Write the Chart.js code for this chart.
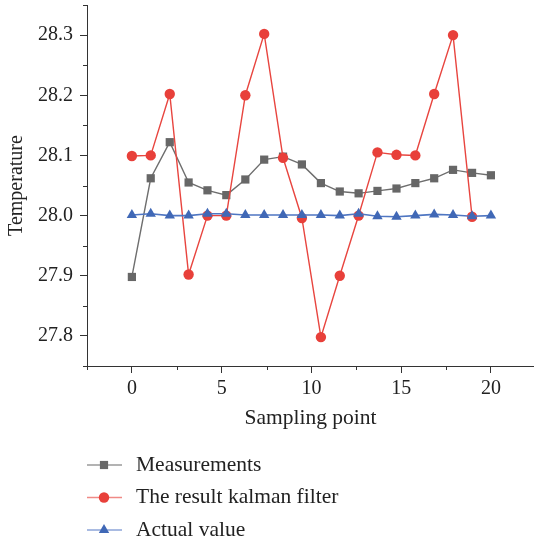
<!DOCTYPE html>
<html>
<head>
<meta charset="utf-8">
<script src="https://cdn.jsdelivr.net/npm/chart.js@4.4.1/dist/chart.umd.min.js"></script>
<style>
    html, body { margin: 0; padding: 0; background: #fff; }
    #wrap { width: 534px; height: 546px; position: relative; }
</style>
</head>
<body>
<div id="wrap"><canvas id="chart"></canvas></div>
<script>
// --- Data ---
const samplePoints = [0, 1.05, 2.11, 3.16, 4.21, 5.26, 6.32, 7.37, 8.42, 9.47,
    10.53, 11.58, 12.63, 13.68, 14.74, 15.79, 16.84, 17.89, 18.95, 20];

const measurements = [27.898, 28.062, 28.122, 28.055, 28.042, 28.034, 28.060, 28.093, 28.098, 28.085,
    28.054, 28.040, 28.037, 28.041, 28.045, 28.054, 28.062, 28.076, 28.071, 28.067];

const kalmanResult = [28.099, 28.100, 28.202, 27.902, 28.000, 28.000, 28.200, 28.302, 28.096, 27.996,
    27.798, 27.900, 28.000, 28.105, 28.101, 28.100, 28.202, 28.300, 27.998];

const actualValue = [28.001, 28.003, 28.000, 28.000, 28.003, 28.003, 28.001, 28.001, 28.001, 28.001,
    28.001, 28.000, 28.003, 27.999, 27.998, 28.000, 28.002, 28.001, 27.999, 28.000];

const xMajorTicks = [0, 5, 10, 15, 20];
const xMinorTicks = [-2.5, 2.5, 7.5, 12.5, 17.5];
const yMajorTicks = [27.8, 27.9, 28.0, 28.1, 28.2, 28.3];
const yMinorTicks = [27.75, 27.85, 27.95, 28.05, 28.15, 28.25, 28.35];

const seriesNames = ['Measurements', 'The result kalman filter', 'Actual value'];

// --- Helpers ---
const FONT = 'Liberation Serif';
const AXIS = '#333333';

function toPoints(values) {
    return values.map((v, i) => ({ x: samplePoints[i], y: v }));
}

// minor ticks + custom legend (line with marker in the middle)
const extrasPlugin = {
    id: 'extras',
    afterDraw(chart) {
        const ctx = chart.ctx;
        const xs = chart.scales.x;
        const ys = chart.scales.y;
        const area = chart.chartArea;

        ctx.save();
        ctx.strokeStyle = AXIS;
        ctx.lineWidth = 1;
        ctx.beginPath();
        xMinorTicks.forEach(v => {
            const px = Math.round(xs.getPixelForValue(v)) + 0.5;
            ctx.moveTo(px, area.bottom);
            ctx.lineTo(px, area.bottom + 4);
        });
        yMinorTicks.forEach(v => {
            const py = Math.round(ys.getPixelForValue(v)) + 0.5;
            ctx.moveTo(area.left, py);
            ctx.lineTo(area.left - 4, py);
        });
        ctx.stroke();

        // legend
        const rowY = [465, 497.5, 530];
        const lineColors = ['#9a9a9a', '#f08a86', '#8ca5d8'];
        chart.data.datasets.forEach((ds, i) => {
            const y = rowY[i];
            ctx.strokeStyle = lineColors[i];
            ctx.lineWidth = 1.5;
            ctx.beginPath();
            ctx.moveTo(87, y);
            ctx.lineTo(122, y);
            ctx.stroke();
            ctx.fillStyle = ds.pointBackgroundColor;
            ctx.strokeStyle = ds.pointBackgroundColor;
            Chart.helpers.drawPoint(ctx, {
                pointStyle: ds.pointStyle,
                radius: ds.pointRadius,
                borderWidth: 0,
                rotation: 0
            }, 104, y);
            ctx.fillStyle = '#222';
            ctx.font = '21.5px "' + FONT + '"';
            ctx.textBaseline = 'middle';
            ctx.textAlign = 'left';
            ctx.fillText(ds.label, 136, y);
        });
        ctx.restore();
    }
};

const ctx = document.getElementById('chart').getContext('2d');
new Chart(ctx, {
    type: 'line',
    data: {
        datasets: [
            {
                label: seriesNames[0],
                data: toPoints(measurements),
                borderColor: '#6e6e6e',
                backgroundColor: '#676767',
                pointBackgroundColor: '#676767',
                pointBorderColor: '#676767',
                pointStyle: 'rect',
                pointRadius: 5.8,
                pointBorderWidth: 0,
                borderWidth: 1.4,
                order: 3
            },
            {
                label: seriesNames[1],
                data: toPoints(kalmanResult),
                borderColor: '#e8453f',
                backgroundColor: '#e8403a',
                pointBackgroundColor: '#e8403a',
                pointBorderColor: '#e8403a',
                pointStyle: 'circle',
                pointRadius: 5.2,
                pointBorderWidth: 0,
                borderWidth: 1.4,
                order: 2
            },
            {
                label: seriesNames[2],
                data: toPoints(actualValue),
                borderColor: '#4f76c2',
                backgroundColor: '#4068b6',
                pointBackgroundColor: '#4068b6',
                pointBorderColor: '#4068b6',
                pointStyle: 'triangle',
                pointRadius: 6,
                pointBorderWidth: 0,
                borderWidth: 1.6,
                order: 1
            }
        ]
    },
    options: {
        responsive: true,
        maintainAspectRatio: false,
        animation: false,
        layout: { autoPadding: false, padding: { top: 5, right: 0, bottom: 110, left: 0 } },
        plugins: {
            legend: { display: false },
            tooltip: { enabled: false }
        },
        scales: {
            x: {
                type: 'linear',
                min: -2.5,
                max: 22.4,
                afterBuildTicks: s => { s.ticks = xMajorTicks.map(v => ({ value: v })); },
                afterFit: s => { s.height = 70; s.paddingLeft = 0; s.paddingRight = 0; },
                ticks: {
                    font: { family: FONT, size: 20 },
                    color: '#222',
                    padding: 4,
                    maxRotation: 0
                },
                grid: { drawOnChartArea: false, tickLength: 7, tickColor: AXIS, tickWidth: 1 },
                border: { display: true, color: AXIS, width: 1 },
                title: {
                    display: true,
                    text: 'Sampling point',
                    font: { family: FONT, size: 21.5 },
                    color: '#222',
                    padding: { top: 0, bottom: 5 }
                }
            },
            y: {
                min: 27.75,
                max: 28.35,
                afterBuildTicks: s => { s.ticks = yMajorTicks.map(v => ({ value: v })); },
                afterFit: s => { s.width = 87; s.paddingTop = 0; s.paddingBottom = 0; },
                ticks: {
                    font: { family: FONT, size: 20 },
                    color: '#222',
                    padding: 7,
                    callback: v => Number(v).toFixed(1)
                },
                grid: { drawOnChartArea: false, tickLength: 7, tickColor: AXIS, tickWidth: 1 },
                border: { display: true, color: AXIS, width: 1 },
                title: {
                    display: true,
                    text: 'Temperature',
                    font: { family: FONT, size: 20 },
                    color: '#222',
                    padding: { top: 5, bottom: 0 }
                }
            }
        }
    },
    plugins: [extrasPlugin]
});
</script>
</body>
</html>
